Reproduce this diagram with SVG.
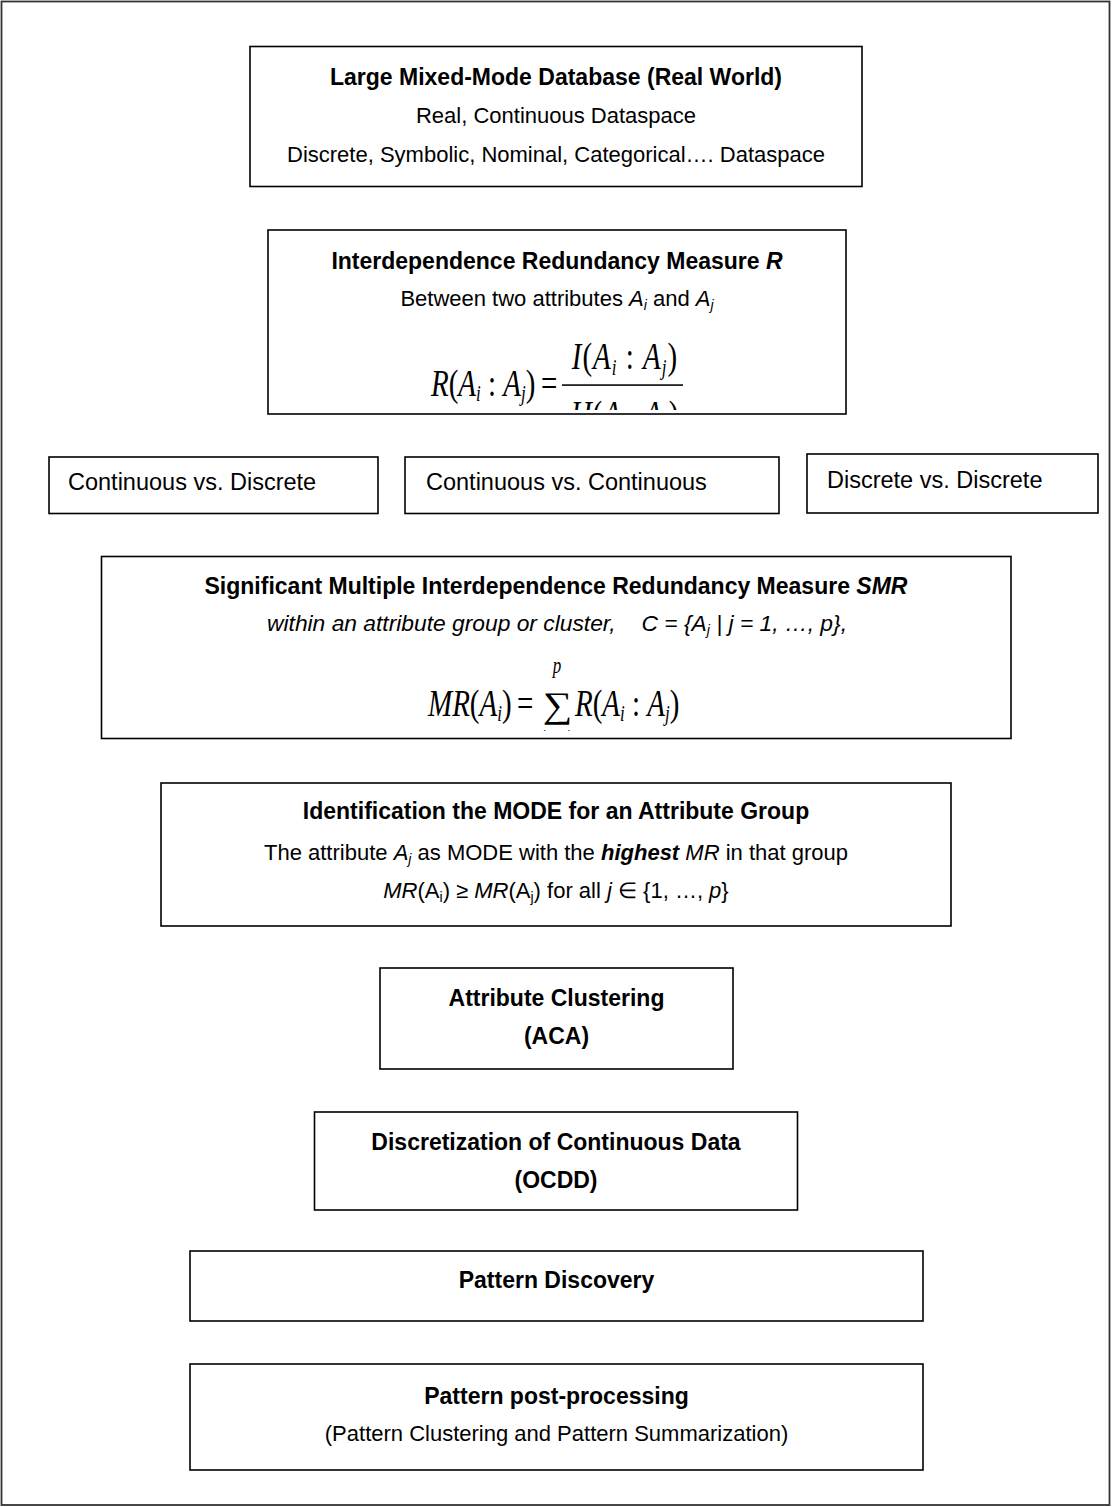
<svg xmlns="http://www.w3.org/2000/svg" width="1112" height="1507" viewBox="0 0 1112 1507">
<style>
.frame{fill:#fff;stroke:#333;stroke-width:1.8}
.box{fill:#fff;stroke:#000;stroke-width:1.6}
.t{font-family:"Liberation Sans",Arial,sans-serif;font-size:22px;fill:#000;text-anchor:middle}
.l{text-anchor:start}
.row{font-size:23.5px}
.b{font-weight:bold;font-size:23px}
.i{font-style:italic}
.bi{font-weight:bold;font-style:italic}
.sb{font-size:14px}
.m{font-family:"Liberation Serif","Times New Roman",serif;font-size:29px;fill:#000}
.mi{font-style:italic}
.ms{font-size:17px}
.sig{font-size:36px}
.wide{font-size:22.8px}
</style>
<defs>
<clipPath id="clipR" clipPathUnits="userSpaceOnUse"><rect x="270" y="232" width="574" height="178"/></clipPath>
<clipPath id="clipMR" clipPathUnits="userSpaceOnUse"><rect x="103" y="558" width="906" height="173"/></clipPath>
</defs>
<rect class="frame" x="1.5" y="1.5" width="1108" height="1503.5"/>
<g id="connectors"></g>

<g id="n-database">
<rect class="box" x="250" y="46.5" width="612" height="140"/>
<text class="t b" x="556" y="85">Large Mixed-Mode Database (Real World)</text>
<text class="t" x="556" y="123">Real, Continuous Dataspace</text>
<text class="t" x="556" y="162">Discrete, Symbolic, Nominal, Categorical…. Dataspace</text>
</g>

<g id="n-redundancy">
<rect class="box" x="268" y="230" width="578" height="184"/>
<text class="t b" x="557" y="269">Interdependence Redundancy Measure <tspan class="bi">R</tspan></text>
<text class="t" x="557" y="306">Between two attributes <tspan class="i">A</tspan><tspan class="i sb" dy="4">i</tspan><tspan dy="-4"> and </tspan><tspan class="i">A</tspan><tspan class="i sb" dy="4">j</tspan></text>
<g clip-path="url(#clipR)">
<g transform="translate(0 396) scale(1 1.3)">
<text class="m" x="431" y="0"><tspan class="mi">R</tspan>(<tspan class="mi">A</tspan><tspan class="mi ms" dy="4">i</tspan><tspan dy="-4"> : </tspan><tspan class="mi">A</tspan><tspan class="mi ms" dy="4">j</tspan><tspan dy="-4">)</tspan></text>
<text class="m" x="541" y="0">=</text>
<rect x="562" y="-9" width="121" height="1.2" fill="#000"/>
<text class="m" x="625" y="-20.5" text-anchor="middle" letter-spacing="1"><tspan class="mi">I</tspan>(<tspan class="mi">A</tspan><tspan class="mi ms" dy="4">i</tspan><tspan dy="-4"> : </tspan><tspan class="mi">A</tspan><tspan class="mi ms" dy="4">j</tspan><tspan dy="-4">)</tspan></text>
<text class="m" x="625" y="24" text-anchor="middle" letter-spacing="1"><tspan class="mi">H</tspan>(<tspan class="mi">A</tspan><tspan class="mi ms" dy="4">i</tspan><tspan dy="-4">, </tspan><tspan class="mi">A</tspan><tspan class="mi ms" dy="4">j</tspan><tspan dy="-4">)</tspan></text>
</g>
</g>
</g>

<g id="n-cont-disc">
<rect class="box" x="49" y="457" width="329" height="56.5"/>
<text class="t l row" x="68" y="490">Continuous vs. Discrete</text>
</g>
<g id="n-cont-cont">
<rect class="box" x="405" y="457" width="374" height="56.5"/>
<text class="t l row" x="426" y="490">Continuous vs. Continuous</text>
</g>
<g id="n-disc-disc">
<rect class="box" x="807" y="454" width="291" height="59"/>
<text class="t l row" x="827" y="488">Discrete vs. Discrete</text>
</g>

<g id="n-smr">
<rect class="box" x="101.5" y="556.5" width="909.5" height="182"/>
<text class="t b" x="556" y="594">Significant Multiple Interdependence Redundancy Measure <tspan class="bi">SMR</tspan></text>
<text class="t i wide" x="557" y="631">within an attribute group or cluster,<tspan dx="26">C = {A</tspan><tspan class="sb" dy="4">j</tspan><tspan dy="-4"> | j = 1, …, p},</tspan></text>
<g clip-path="url(#clipMR)">
<g transform="translate(0 716) scale(1 1.3)">
<text class="m" x="428" y="0"><tspan class="mi">MR</tspan>(<tspan class="mi">A</tspan><tspan class="mi ms" dy="4">i</tspan><tspan dy="-4">)</tspan></text>
<text class="m" x="517" y="0">=</text>
<text class="m mi ms" x="557" y="-33" text-anchor="middle">p</text>
<text class="m ms" x="557" y="22" text-anchor="middle"><tspan class="mi">j</tspan> = 1</text>
<text class="m" x="575" y="0"><tspan class="mi">R</tspan>(<tspan class="mi">A</tspan><tspan class="mi ms" dy="4">i</tspan><tspan dy="-4"> : </tspan><tspan class="mi">A</tspan><tspan class="mi ms" dy="4">j</tspan><tspan dy="-4">)</tspan></text>
</g>
<text class="m sig" text-anchor="middle" transform="translate(557.5 717) scale(1.15 1)" x="0" y="0">∑</text>
</g>
</g>

<g id="n-mode">
<rect class="box" x="161" y="783" width="790" height="143"/>
<text class="t b" x="556" y="819">Identification the MODE for an Attribute Group</text>
<text class="t" x="556" y="860">The attribute <tspan class="i">A</tspan><tspan class="i sb" dy="4">j</tspan><tspan dy="-4"> as MODE with the </tspan><tspan class="bi">highest</tspan> <tspan class="i">MR</tspan> in that group</text>
<text class="t" x="556" y="898"><tspan class="i">MR</tspan>(A<tspan class="sb" dy="4">i</tspan><tspan dy="-4">) ≥ </tspan><tspan class="i">MR</tspan>(A<tspan class="sb" dy="4">j</tspan><tspan dy="-4">) for all </tspan><tspan class="i">j</tspan> ∈ {1, …, <tspan class="i">p</tspan>}</text>
</g>

<g id="n-aca">
<rect class="box" x="380" y="968" width="353" height="101"/>
<text class="t b" x="556.5" y="1006">Attribute Clustering</text>
<text class="t b" x="556.5" y="1044">(ACA)</text>
</g>

<g id="n-ocdd">
<rect class="box" x="314.5" y="1112" width="483" height="98"/>
<text class="t b" x="556" y="1150">Discretization of Continuous Data</text>
<text class="t b" x="556" y="1188">(OCDD)</text>
</g>

<g id="n-discovery">
<rect class="box" x="190" y="1251" width="733" height="70"/>
<text class="t b" x="556.5" y="1288">Pattern Discovery</text>
</g>

<g id="n-postproc">
<rect class="box" x="190" y="1364" width="733" height="106"/>
<text class="t b" x="556.5" y="1404">Pattern post-processing</text>
<text class="t" x="556.5" y="1441">(Pattern Clustering and Pattern Summarization)</text>
</g>
</svg>
